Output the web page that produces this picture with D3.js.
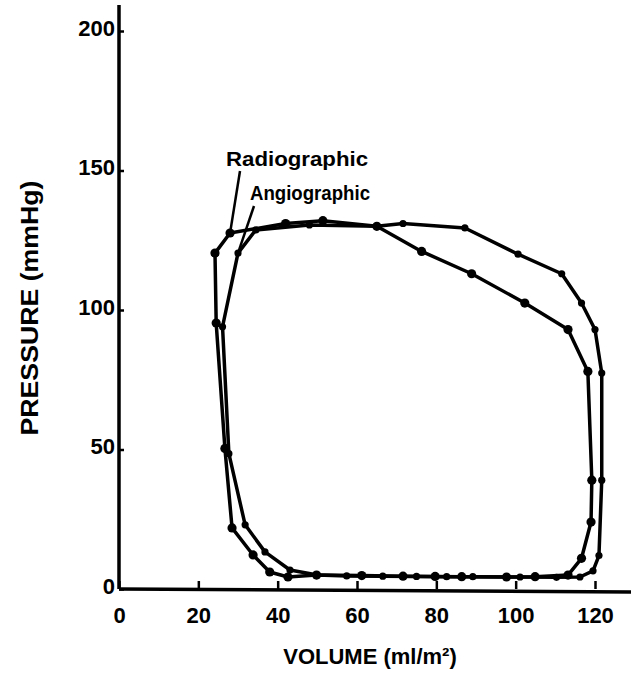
<!DOCTYPE html>
<html>
<head>
<meta charset="utf-8">
<script src="https://cdn.jsdelivr.net/npm/d3@7"></script>
<style>
  html, body { margin: 0; padding: 0; background: #fff; }
  svg { display: block; }
  text { font-family: "Liberation Sans", "DejaVu Sans", sans-serif; fill: #000; font-weight: bold; }
</style>
</head>
<body>
<svg id="chart" width="631" height="698"></svg>
<script>
// ---- data (volume ml/m², pressure mmHg) ----
const radiographicVolume   = [42.6, 49.8, 61.2, 71.6, 79.7, 86.4, 97.7, 104.9, 113.2, 116.6, 119.0, 119.2, 118.2, 113.2, 102.3, 88.9, 76.3, 65.0, 51.4, 42.0, 28.0, 24.2, 24.5, 26.7, 28.5, 33.8, 38.0];
const radiographicPressure = [4.3, 5.0, 4.8, 4.6, 4.5, 4.4, 4.3, 4.4, 5.0, 11.0, 24.0, 39.0, 78.0, 93.0, 102.5, 113.0, 121.0, 130.0, 132.0, 131.0, 127.6, 120.4, 95.3, 50.4, 21.9, 12.2, 6.1];

const angiographicVolume   = [50.0, 57.4, 66.5, 75.0, 82.6, 89.2, 101.1, 110.3, 116.2, 119.5, 121.0, 121.7, 121.7, 120.0, 116.6, 111.6, 100.6, 87.2, 71.6, 65.0, 48.0, 34.5, 30.0, 26.1, 27.7, 31.8, 36.8, 43.1];
const angiographicPressure = [5.0, 4.7, 4.6, 4.5, 4.4, 4.4, 4.3, 4.2, 4.3, 6.5, 12.0, 39.0, 77.4, 93.0, 102.5, 113.0, 120.0, 129.4, 131.0, 130.0, 130.5, 128.7, 120.4, 94.0, 48.5, 23.0, 13.3, 6.8];

const xTicks = [0, 20, 40, 60, 80, 100, 120];
const yTicks = [0, 50, 100, 150, 200];
const seriesNames = ["Radiographic", "Angiographic"];

// ---- layout ----
const svg = d3.select("#chart");
const x = d3.scaleLinear().domain([0, 120]).range([119, 595]);
const y = d3.scaleLinear().domain([0, 200]).range([589, 31]);

// axes lines
svg.append("line").attr("x1", x(0)).attr("x2", 631).attr("y1", y(0)).attr("y2", y(0) + 3)
  .attr("stroke", "#000").attr("stroke-width", 3.5);
svg.append("line").attr("x1", x(0)).attr("x2", x(0)).attr("y1", y(0)).attr("y2", 5)
  .attr("stroke", "#000").attr("stroke-width", 3.5);

const xAxis = d3.axisBottom(x).tickValues(xTicks).tickSizeInner(-8).tickSizeOuter(0).tickPadding(16);
const gx = svg.append("g").attr("transform", `translate(0,${y(0)})`).call(xAxis);
gx.select(".domain").remove();
gx.selectAll(".tick line").attr("stroke", "#000").attr("stroke-width", 2.5);
gx.selectAll(".tick text").attr("font-size", 22).attr("dy", "0.8em")
  .style("font-family", "'Liberation Sans', sans-serif").style("font-weight", "bold");

const yAxis = d3.axisLeft(y).tickValues(yTicks).tickSizeInner(-5).tickSizeOuter(0).tickPadding(4);
const gy = svg.append("g").attr("transform", `translate(${x(0)},0)`).call(yAxis);
gy.select(".domain").remove();
gy.selectAll(".tick line").attr("stroke", "#000").attr("stroke-width", 2.5);
gy.selectAll(".tick text").attr("font-size", 22).attr("dy", "0.2em")
  .style("font-family", "'Liberation Sans', sans-serif").style("font-weight", "bold");

// axis titles
svg.append("text").attr("x", 370).attr("y", 664).attr("text-anchor", "middle")
  .attr("font-size", 22).text("VOLUME (ml/m²)");
svg.append("text").attr("transform", "translate(38,308) rotate(-90)").attr("text-anchor", "middle")
  .attr("font-size", 24).attr("textLength", 255).attr("lengthAdjust", "spacingAndGlyphs")
  .text("PRESSURE (mmHg)");

// loops
const line = d3.line().x(d => x(d[0])).y(d => y(d[1])).curve(d3.curveLinearClosed);
const radio = radiographicVolume.map((v, i) => [v, radiographicPressure[i]]);
const angio = angiographicVolume.map((v, i) => [v, angiographicPressure[i]]);

svg.append("path").datum(angio).attr("d", line).attr("fill", "none")
  .attr("stroke", "#000").attr("stroke-width", 3.5).attr("stroke-linejoin", "round");
svg.append("path").datum(radio).attr("d", line).attr("fill", "none")
  .attr("stroke", "#000").attr("stroke-width", 3.5).attr("stroke-linejoin", "round");

svg.selectAll("circle.a").data(angio).enter().append("circle").attr("class", "a")
  .attr("cx", d => x(d[0])).attr("cy", d => y(d[1])).attr("r", 3.6).attr("fill", "#000");
svg.selectAll("circle.r").data(radio).enter().append("circle").attr("class", "r")
  .attr("cx", d => x(d[0])).attr("cy", d => y(d[1])).attr("r", 4.6).attr("fill", "#000");

// labels with pointer lines
svg.append("text").attr("x", 226).attr("y", 166).attr("font-size", 21)
  .attr("textLength", 142).attr("lengthAdjust", "spacingAndGlyphs").text(seriesNames[0]);
svg.append("text").attr("x", 250).attr("y", 200).attr("font-size", 21)
  .attr("textLength", 120).attr("lengthAdjust", "spacingAndGlyphs").text(seriesNames[1]);
svg.append("line").attr("x1", 240).attr("y1", 171).attr("x2", x(28)).attr("y2", y(127.6))
  .attr("stroke", "#000").attr("stroke-width", 2.5);
svg.append("line").attr("x1", 254).attr("y1", 206).attr("x2", x(30)).attr("y2", y(120.4))
  .attr("stroke", "#000").attr("stroke-width", 2.5);
</script>
</body>
</html>
